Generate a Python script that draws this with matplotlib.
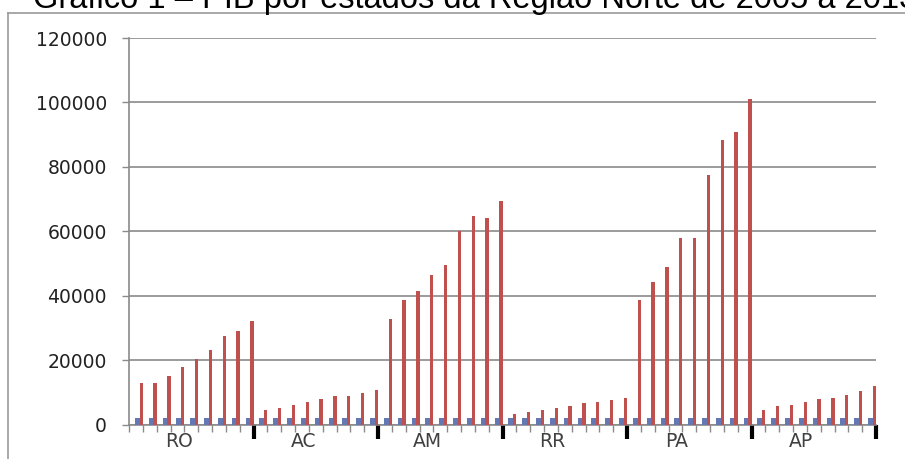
import numpy as np
import matplotlib
matplotlib.use("Agg")
import matplotlib.pyplot as plt
from matplotlib.lines import Line2D

# dados
estados = ['RO', 'AC', 'AM', 'RR', 'PA', 'AP']
anos = [2005, 2006, 2007, 2008, 2009, 2010, 2011, 2012, 2013]
pib_RO = [12900, 12900, 15000, 17700, 20200, 23000, 27400, 29000, 32200]
pib_AC = [4500, 5100, 6100, 7100, 7800, 8800, 8800, 9800, 10800]
pib_AM = [32800, 38700, 41400, 46300, 49400, 60000, 64700, 64000, 69400]
pib_RR = [3300, 4000, 4500, 5100, 5600, 6600, 7100, 7600, 8300]
pib_PA = [38700, 44200, 48900, 58000, 58000, 77400, 88300, 90900, 101000]
pib_AP = [4500, 5600, 6100, 7100, 7800, 8300, 9300, 10300, 11800]
pib = [pib_RO, pib_AC, pib_AM, pib_RR, pib_PA, pib_AP]
y_ticks = [0, 20000, 40000, 60000, 80000, 100000, 120000]
titulo = 'Gráfico 1 – PIB por estados da Região Norte de 2005 a 2013'

W, H = 905, 459
fig = plt.figure(figsize=(W/100, H/100), dpi=100)
ax = fig.add_axes([129/W, 1-424.5/H, (876-129)/W, (424.5-38)/H])

n = len(anos)
azul = '#6479b4'
vermelho = '#c0504d'
for g, est in enumerate(estados):
	x0 = g*n + np.arange(n)
	ax.bar(x0 + 0.62, anos, width=0.38, color=azul, zorder=3)
	ax.bar(x0 + 0.88, pib[g], width=0.24, color=vermelho, zorder=3)
	ax.text(g*n + 0.4*n, -0.045, est, transform=ax.get_xaxis_transform(),
		ha='center', va='center', fontsize=13.5, color='#404040', family='DejaVu Sans')

ax.set_xlim(0, n*len(estados))
ax.set_ylim(0, 120000)
ax.set_yticks(y_ticks)
ax.set_yticklabels([str(v) for v in y_ticks], fontsize=13.5, color='#222222')
ax.yaxis.grid(True, color='#8a8a8a', linewidth=1.2, zorder=0)
ax.set_axisbelow(True)

ax.set_xticks(np.arange(n, n*len(estados)+1, n))
ax.set_xticklabels([])
ax.set_xticks(np.arange(0, n*len(estados)+1, 1), minor=True)
ax.tick_params(axis='x', which='major', length=10, width=3, color='black', direction='out')
ax.tick_params(axis='x', which='minor', length=5, width=1, color='#8a8a8a', direction='out')
ax.tick_params(axis='y', length=5, width=1, color='#8a8a8a', pad=11)

for s in ['top', 'right']:
	ax.spines[s].set_visible(False)
for s in ['left', 'bottom']:
	ax.spines[s].set_color('#8a8a8a')
	ax.spines[s].set_linewidth(1.2)

# borda da area do grafico
fig.add_artist(Line2D([8/W, 8/W], [0, 1-13/H], color='#9a9a9a', linewidth=1.2, transform=fig.transFigure))
fig.add_artist(Line2D([8/W, 1], [1-13/H, 1-13/H], color='#9a9a9a', linewidth=1.2, transform=fig.transFigure))

# titulo cortado no topo, como na imagem original
fig.text(33/W, 1-8/H, titulo, fontsize=23.5, family='Liberation Sans', va='baseline', ha='left', color='black')

fig.savefig('out.png', dpi=100)
